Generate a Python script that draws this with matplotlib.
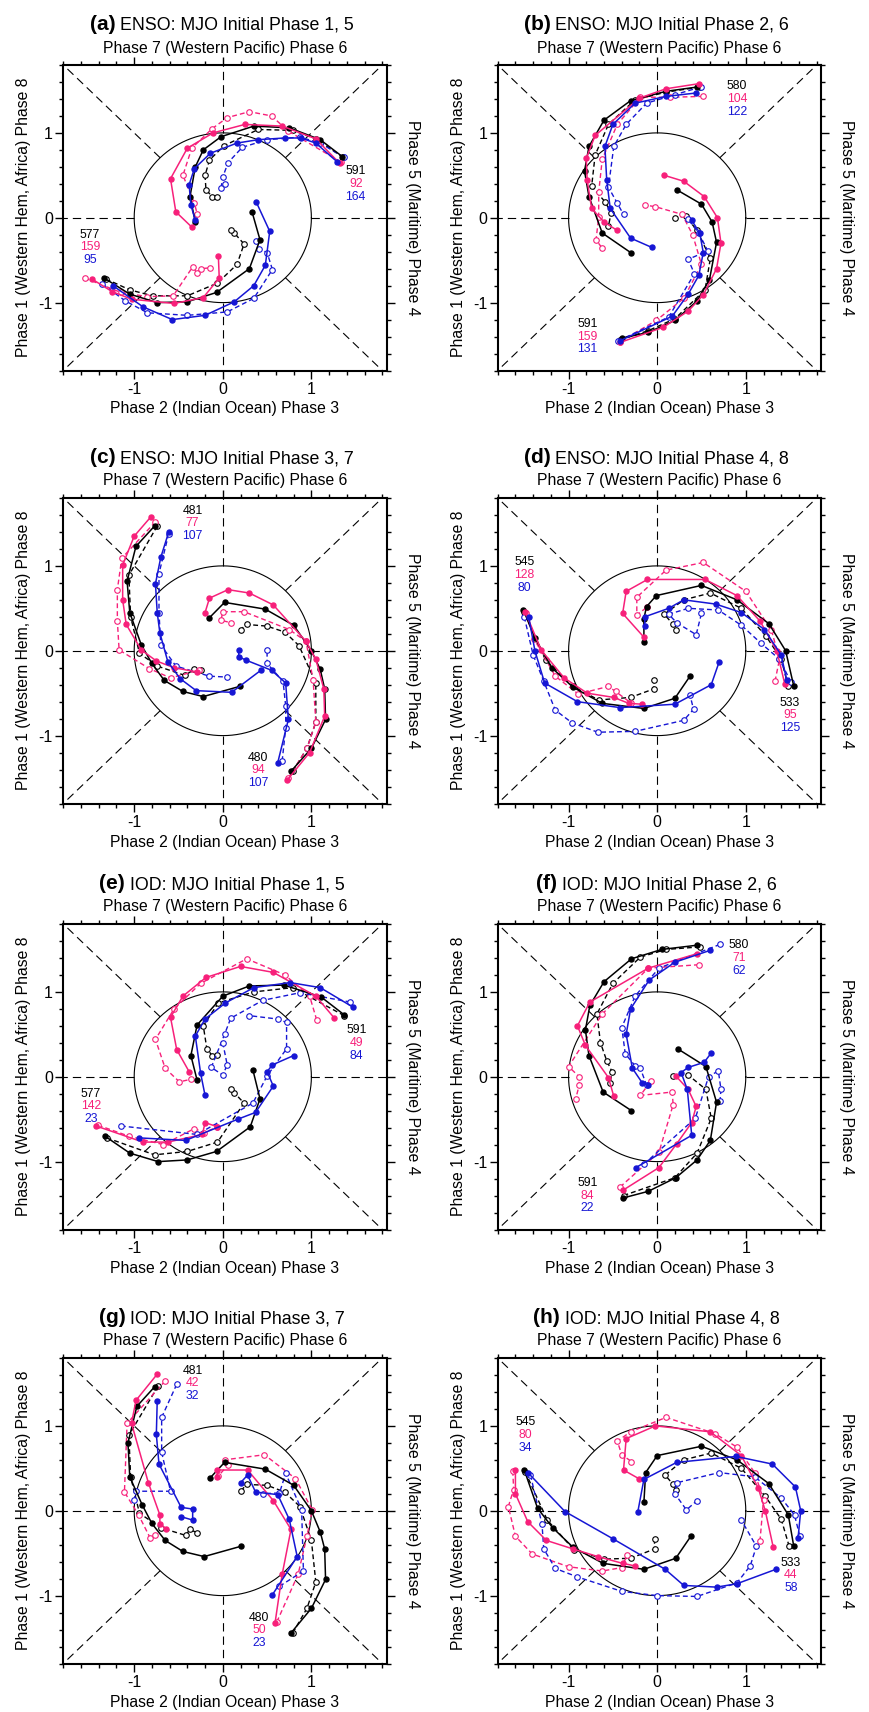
import matplotlib
matplotlib.use("Agg")
import matplotlib.pyplot as plt
import numpy as np
from matplotlib.ticker import MultipleLocator, FixedLocator

plt.rcParams['font.family'] = ['Liberation Sans', 'DejaVu Sans']

# ---------------------------------------------------------------- data
# each track: list of (RMM1, RMM2) points; k=black, p=pink, b=blue; d suffix = dashed
# Panel (a)
a1_k  = [(1.35,0.72),(1.1,0.92),(0.75,1.06),(0.35,1.08),(-0.02,0.955),(-0.22,0.8),(-0.31,0.60),(-0.37,0.25),(-0.31,-0.05)]
a1_kd = [(1.36,0.71),(1.05,0.93),(0.79,1.03),(0.4,1.04),(0.015,0.85),(-0.15,0.68),(-0.2,0.5),(-0.19,0.33),(-0.12,0.25),(-0.06,0.25)]
a1_p  = [(1.32,0.64),(1.05,0.93),(0.67,1.08),(0.25,1.1),(-0.11,1.0),(-0.4,0.82),(-0.59,0.46),(-0.53,0.07),(-0.35,-0.11)]
a1_pd = [(1.33,0.66),(0.74,1.02),(0.55,1.2),(0.3,1.25),(0.05,1.18),(-0.12,1.05),(-0.35,0.82),(-0.45,0.5),(-0.32,0.17),(-0.29,0.05)]
a1_b  = [(1.29,0.66),(1.05,0.88),(0.88,0.94),(0.7,0.94),(0.4,0.92),(0.16,0.88),(-0.14,0.76),(-0.32,0.58),(-0.38,0.39),(-0.36,0.15),(-0.31,-0.03)]
a1_bd = [(1.37,0.71),(1.1,0.88),(0.87,0.95),(0.5,0.92),(0.22,0.83),(0.06,0.65),(0.0,0.48),(-0.02,0.35),(0.03,0.40)]
a2_k  = [(-1.34,-0.71),(-1.05,-0.9),(-0.74,-1.0),(-0.4,-0.99),(-0.07,-0.88),(0.30,-0.6),(0.42,-0.26),(0.33,0.07)]
a2_kd = [(-1.32,-0.72),(-1.05,-0.85),(-0.79,-0.92),(-0.4,-0.92),(-0.06,-0.77),(0.16,-0.55),(0.24,-0.31),(0.13,-0.18),(0.09,-0.15)]
a2_p  = [(-1.48,-0.72),(-1.25,-0.87),(-1.03,-0.96),(-0.55,-1.01),(-0.22,-0.94),(-0.04,-0.71),(-0.05,-0.45)]
a2_pd = [(-1.56,-0.71),(-1.15,-0.88),(-0.85,-0.93),(-0.56,-0.92),(-0.34,-0.58),(-0.29,-0.65),(-0.25,-0.6),(-0.14,-0.59)]
a2_b  = [(-1.24,-0.8),(-0.9,-1.05),(-0.57,-1.2),(-0.2,-1.15),(0.13,-0.99),(0.35,-0.8),(0.48,-0.56),(0.53,-0.16),(0.38,0.18)]
a2_bd = [(-1.36,-0.78),(-1.1,-0.98),(-0.85,-1.12),(-0.4,-1.15),(0.05,-1.11),(0.35,-0.95),(0.56,-0.61),(0.5,-0.41),(0.41,-0.37),(0.37,-0.27)]

# Panel (b)
b1_k  = [(0.45,1.54),(0.1,1.49),(-0.30,1.38),(-0.6,1.15),(-0.77,0.84),(-0.82,0.55),(-0.77,0.25),(-0.62,-0.18),(-0.30,-0.41)]
b1_kd = [(0.48,1.54),(0.1,1.48),(-0.25,1.39),(-0.55,1.1),(-0.70,0.74),(-0.74,0.37),(-0.59,0.19),(-0.52,0.06),(-0.55,-0.1)]
b1_p  = [(0.47,1.58),(0.1,1.52),(-0.2,1.41),(-0.70,0.97),(-0.8,0.7),(-0.79,0.44),(-0.74,0.11),(-0.6,-0.05),(-0.45,-0.15)]
b1_pd = [(0.52,1.43),(0.15,1.42),(-0.19,1.42),(-0.45,1.1),(-0.62,0.69),(-0.66,0.3),(-0.66,0.01),(-0.69,-0.26),(-0.62,-0.36)]
b1_b  = [(0.44,1.47),(0.1,1.43),(-0.25,1.35),(-0.5,1.1),(-0.59,0.84),(-0.57,0.45),(-0.53,0.11),(-0.30,-0.24),(-0.06,-0.35)]
b1_bd = [(0.49,1.54),(0.2,1.45),(-0.12,1.35),(-0.35,1.1),(-0.49,0.84),(-0.55,0.36),(-0.45,0.17),(-0.38,0.04)]
b2_k  = [(-0.40,-1.42),(-0.1,-1.35),(0.20,-1.21),(0.45,-0.98),(0.59,-0.73),(0.67,-0.29),(0.62,-0.05),(0.50,0.16),(0.22,0.33)]
b2_kd = [(-0.42,-1.44),(-0.1,-1.33),(0.2,-1.19),(0.54,-0.85),(0.6,-0.48),(0.45,-0.15),(0.32,0.02),(0.2,0.0)]
b2_p  = [(-0.42,-1.47),(0.07,-1.29),(0.35,-1.1),(0.52,-0.91),(0.67,-0.6),(0.72,-0.3),(0.68,0.0),(0.53,0.25),(0.3,0.43),(0.08,0.5)]
b2_pd = [(-0.42,-1.46),(-0.01,-1.21),(0.3,-0.95),(0.5,-0.55),(0.4,-0.2),(0.28,0.04),(-0.02,0.13),(-0.14,0.15)]
b2_b  = [(-0.42,-1.45),(0.17,-1.16),(0.35,-0.9),(0.47,-0.68),(0.52,-0.41),(0.48,-0.18),(0.39,-0.03)]
b2_bd = [(-0.44,-1.45),(0.13,-1.17),(0.42,-0.66),(0.35,-0.49),(0.57,-0.39),(0.47,-0.18),(0.35,-0.02)]

# Panel (c)
c1_k  = [(-0.77,1.47),(-0.98,1.23),(-1.08,0.82),(-1.05,0.45),(-0.92,0.07),(-0.8,-0.15),(-0.66,-0.35),(-0.45,-0.48),(-0.22,-0.54),(0.19,-0.42)]
c1_kd = [(-0.74,1.47),(-1.06,0.89),(-1.04,0.4),(-0.94,-0.03),(-0.74,-0.18),(-0.43,-0.29),(-0.32,-0.22),(-0.25,-0.23)]
c1_p  = [(-0.81,1.58),(-1.0,1.35),(-1.13,1.01),(-1.13,0.6),(-1.09,0.31),(-0.92,0.01),(-0.75,-0.12),(-0.55,-0.2),(-0.29,-0.25)]
c1_pd = [(-0.76,1.52),(-1.14,1.09),(-1.19,0.72),(-1.19,0.35),(-1.17,0.01),(-0.83,-0.21),(-0.59,-0.32),(-0.27,-0.23)]
c1_b  = [(-0.61,1.40),(-0.7,1.1),(-0.76,0.79),(-0.74,0.45),(-0.71,0.21),(-0.62,-0.13),(-0.48,-0.33),(-0.30,-0.47),(0.10,-0.49),(0.43,-0.23)]
c1_bd = [(-0.61,1.38),(-0.72,0.91),(-0.72,0.45),(-0.70,0.07),(-0.53,-0.18),(-0.15,-0.30),(0.05,-0.31)]
c2_k  = [(0.77,-1.42),(1.0,-1.15),(1.16,-0.81),(1.15,-0.45),(1.1,-0.22),(1.0,0.0),(0.8,0.3),(0.48,0.49),(0.02,0.57),(-0.15,0.39)]
c2_kd = [(0.79,-1.42),(0.95,-1.15),(1.05,-0.84),(1.05,-0.38),(0.86,0.06),(0.7,0.22),(0.5,0.29),(0.27,0.31),(0.2,0.25)]
c2_p  = [(0.73,-1.52),(0.98,-1.2),(1.15,-0.77),(1.14,-0.45),(1.05,-0.1),(0.94,0.11),(0.57,0.54),(0.3,0.68),(0.06,0.72),(-0.15,0.62),(-0.2,0.45)]
c2_pd = [(0.74,-1.5),(0.95,-1.15),(1.05,-0.84),(1.02,-0.35),(0.94,0.11),(0.75,0.25),(0.24,0.46),(0.0,0.46),(-0.02,0.36),(0.09,0.33)]
c2_b  = [(0.62,-1.32),(0.74,-0.81),(0.71,-0.38),(0.55,-0.23),(0.26,-0.11),(0.18,-0.07),(0.18,0.01)]
c2_bd = [(0.67,-1.30),(0.71,-0.91),(0.71,-0.65),(0.68,-0.36),(0.5,-0.15),(0.5,0.01)]

# Panel (d)
d1_k  = [(-1.51,0.48),(-1.38,0.15),(-1.19,-0.2),(-0.95,-0.43),(-0.62,-0.62),(-0.15,-0.68),(0.2,-0.56),(0.37,-0.3)]
d1_kd = [(-1.5,0.46),(-1.26,-0.11),(-0.95,-0.42),(-0.66,-0.58),(-0.3,-0.55),(-0.04,-0.45),(-0.04,-0.34)]
d1_p  = [(-1.49,0.46),(-1.31,0.01),(-1.05,-0.32),(-0.79,-0.5),(-0.49,-0.55),(-0.32,-0.62),(-0.17,-0.63)]
d1_pd = [(-1.48,0.44),(-1.39,0.14),(-1.15,-0.3),(-0.89,-0.51),(-0.55,-0.42),(-0.47,-0.48),(-0.29,-0.62)]
d1_b  = [(-1.45,0.4),(-1.38,0.0),(-1.27,-0.38),(-0.9,-0.6),(-0.42,-0.67),(0.2,-0.63),(0.61,-0.4),(0.7,-0.13)]
d1_bd = [(-1.5,0.4),(-1.4,-0.05),(-1.28,-0.36),(-1.15,-0.7),(-0.96,-0.85),(-0.67,-0.96),(-0.25,-0.95),(0.3,-0.82),(0.41,-0.69),(0.37,-0.52)]
d2_k  = [(1.54,-0.41),(1.45,0.0),(1.26,0.32),(0.9,0.6),(0.5,0.77),(-0.01,0.65),(-0.12,0.52),(-0.15,0.38),(-0.15,0.10)]
d2_kd = [(1.48,-0.42),(1.4,-0.1),(1.23,0.17),(0.95,0.5),(0.6,0.68),(0.3,0.6),(0.08,0.43),(0.18,0.31),(0.21,0.25)]
d2_p  = [(1.44,-0.39),(1.35,0.0),(1.16,0.35),(0.9,0.65),(0.54,0.84),(-0.11,0.84),(-0.35,0.7),(-0.39,0.44),(-0.15,0.16)]
d2_pd = [(1.33,-0.36),(1.38,-0.1),(1.29,0.24),(1.0,0.7),(0.52,1.04),(0.1,0.95),(-0.23,0.63),(-0.23,0.42),(-0.12,0.51)]
d2_b  = [(1.46,-0.34),(1.4,-0.05),(1.21,0.25),(0.95,0.45),(0.66,0.55),(0.30,0.60),(0.13,0.50),(-0.14,0.40),(-0.14,0.29)]
d2_bd = [(1.51,-0.37),(1.38,-0.1),(1.17,0.09),(0.95,0.3),(0.69,0.48),(0.35,0.5),(0.13,0.43),(0.22,0.33),(0.44,0.19),(0.5,0.44)]

# Panel (e)
e1_k  = [(1.37,0.73),(1.11,0.94),(0.69,1.08),(0.3,1.07),(0.0,0.95),(-0.29,0.61),(-0.36,0.25),(-0.29,-0.04)]
e1_kd = [(1.37,0.72),(0.79,1.05),(0.35,1.0),(-0.05,0.87),(-0.22,0.6),(-0.18,0.33),(-0.12,0.25),(-0.06,0.26)]
e1_p  = [(1.26,0.69),(1.05,0.95),(0.57,1.23),(0.2,1.3),(-0.19,1.17),(-0.45,0.95),(-0.59,0.7),(-0.52,0.32),(-0.38,0.06)]
e1_pd = [(1.06,0.67),(0.98,0.95),(0.7,1.2),(0.27,1.39),(-0.25,1.1),(-0.55,0.8),(-0.76,0.44),(-0.65,0.1),(-0.49,-0.06),(-0.36,-0.03)]
e1_b  = [(1.47,0.82),(1.1,1.05),(0.76,1.11),(0.35,1.05),(0.03,0.87),(-0.2,0.68),(-0.31,0.48),(-0.25,0.04),(-0.2,-0.22)]
e1_bd = [(1.44,0.88),(0.87,0.99),(0.45,0.9),(0.09,0.69),(0.02,0.5),(-0.13,0.11),(0.0,0.02),(0.05,0.14),(0.0,0.40)]
e2_k  = [(-1.33,-0.7),(-1.05,-0.9),(-0.73,-1.0),(-0.4,-0.98),(-0.07,-0.88),(0.31,-0.59),(0.42,-0.26),(0.34,0.08)]
e2_kd = [(-1.31,-0.72),(-0.77,-0.92),(-0.4,-0.88),(-0.06,-0.77),(0.24,-0.31),(0.13,-0.19),(0.09,-0.15)]
e2_p  = [(-1.43,-0.58),(-0.9,-0.77),(-0.62,-0.77),(-0.23,-0.68),(-0.2,-0.54),(-0.06,-0.59)]
e2_pd = [(-1.41,-0.57),(-1.06,-0.7),(-0.67,-0.8),(-0.32,-0.61),(-0.21,-0.66),(-0.06,-0.59)]
e2_b  = [(-0.95,-0.72),(-0.42,-0.75),(0.17,-0.5),(0.37,-0.42),(0.57,-0.11),(0.5,0.06),(0.56,0.14),(0.8,0.25)]
e2_bd = [(-1.15,-0.58),(-0.29,-0.68),(0.34,-0.31),(0.5,0.01),(0.72,0.33),(0.72,0.64),(0.62,0.68),(0.3,0.72)]

# Panel (f)
f1_k  = [(0.45,1.55),(0.05,1.5),(-0.29,1.39),(-0.6,1.12),(-0.76,0.84),(-0.81,0.55),(-0.77,0.25),(-0.61,-0.18),(-0.29,-0.4)]
f1_kd = [(0.48,1.53),(0.1,1.5),(-0.19,1.41),(-0.5,1.1),(-0.68,0.74),(-0.64,0.4),(-0.57,0.19),(-0.51,0.06),(-0.53,-0.07)]
f1_p  = [(0.45,1.45),(-0.1,1.28),(-0.76,0.88),(-0.9,0.6),(-0.81,0.37),(-0.55,-0.01),(-0.49,-0.23)]
f1_pd = [(0.47,1.32),(-0.1,1.28),(-0.62,0.74),(-1.0,0.12),(-0.88,0.0),(-0.88,-0.1),(-0.92,-0.26)]
f1_b  = [(0.6,1.49),(0.2,1.35),(-0.09,1.14),(-0.3,0.8),(-0.35,0.5),(-0.28,0.1),(-0.17,-0.07),(-0.1,-0.1)]
f1_bd = [(0.71,1.56),(0.02,1.28),(-0.25,0.95),(-0.40,0.58),(-0.36,0.27),(-0.25,0.13),(-0.19,0.1),(-0.12,-0.1)]
f2_k  = [(-0.39,-1.43),(-0.1,-1.35),(0.21,-1.19),(0.45,-0.98),(0.6,-0.75),(0.67,-0.3),(0.55,0.12),(0.23,0.33)]
f2_kd = [(-0.38,-1.4),(0.2,-1.19),(0.45,-0.9),(0.61,-0.49),(0.55,-0.15),(0.35,0.02),(0.18,0.01)]
f2_p  = [(-0.39,-1.34),(0.02,-1.07),(0.22,-0.79),(0.39,-0.54),(0.44,-0.35),(0.35,-0.15),(0.21,0.01)]
f2_pd = [(-0.42,-1.3),(0.02,-0.89),(0.18,-0.33),(0.17,-0.18),(-0.19,-0.22),(-0.07,-0.05)]
f2_b  = [(-0.24,-1.07),(0.39,-0.69),(0.34,-0.15),(0.27,0.05),(0.35,0.11),(0.53,0.17),(0.61,0.28)]
f2_bd = [(-0.15,-1.03),(0.43,-0.49),(0.58,0.0),(0.69,0.07),(0.72,-0.15),(0.71,-0.28)]

# Panel (g)
g1_k  = [(-0.77,1.46),(-0.97,1.23),(-1.07,0.8),(-1.05,0.4),(-0.91,0.07),(-0.8,-0.15),(-0.65,-0.35),(-0.45,-0.48),(-0.21,-0.54),(0.2,-0.42)]
g1_kd = [(-0.73,1.47),(-1.06,0.89),(-1.04,0.4),(-0.94,-0.03),(-0.7,-0.2),(-0.42,-0.29),(-0.37,-0.22),(-0.29,-0.26)]
g1_p  = [(-0.74,1.61),(-0.98,1.3),(-1.03,1.03),(-0.84,0.33),(-0.71,-0.05),(-0.71,-0.16),(-0.64,-0.21)]
g1_pd = [(-0.65,1.53),(-1.08,1.03),(-1.11,0.22),(-0.95,-0.05),(-0.82,-0.32),(-0.77,-0.28)]
g1_b  = [(-0.74,1.29),(-0.75,0.9),(-0.72,0.55),(-0.47,0.04),(-0.34,0.02),(-0.34,-0.11),(-0.47,-0.07)]
g1_bd = [(-0.52,1.49),(-0.69,1.1),(-0.69,0.69),(-0.59,0.23),(-0.98,0.23),(-1.0,0.13)]
g2_k  = [(0.77,-1.44),(1.0,-1.15),(1.16,-0.81),(1.15,-0.45),(1.1,-0.25),(1.0,0.0),(0.8,0.3),(0.48,0.49),(0.02,0.57),(-0.14,0.39)]
g2_kd = [(0.79,-1.44),(0.95,-1.15),(1.05,-0.84),(1.0,-0.35),(0.87,0.05),(0.7,0.22),(0.5,0.3),(0.27,0.31),(0.2,0.23)]
g2_p  = [(0.59,-1.32),(0.67,-0.75),(0.77,-0.22),(0.57,0.12),(0.28,0.48),(-0.06,0.48),(-0.06,0.4)]
g2_pd = [(0.61,-1.31),(0.85,-0.75),(0.95,-0.3),(1.01,0.01),(0.82,0.38),(0.47,0.66),(0.02,0.6),(0.06,0.54),(-0.05,0.41)]
g2_b  = [(0.56,-0.99),(0.84,-0.54),(0.75,-0.1),(0.62,0.19),(0.37,0.22),(0.28,0.42),(0.2,0.33)]
g2_bd = [(0.64,-0.89),(0.91,-0.71),(0.89,0.01),(0.71,0.44),(0.64,0.21),(0.45,0.2)]

# Panel (h)
h1_k  = [(-1.5,0.48),(-1.35,0.03),(-1.18,-0.2),(-0.95,-0.43),(-0.61,-0.62),(-0.15,-0.69),(0.21,-0.56),(0.38,-0.3)]
h1_kd = [(-1.49,0.46),(-1.24,-0.11),(-0.94,-0.46),(-0.6,-0.57),(-0.3,-0.56),(-0.03,-0.45),(-0.03,-0.33)]
h1_p  = [(-1.6,0.48),(-1.6,0.2),(-1.46,-0.13),(-1.25,-0.35),(-0.95,-0.45),(-0.67,-0.54),(-0.39,-0.62),(-0.25,-0.65)]
h1_pd = [(-1.63,0.47),(-1.62,0.25),(-1.68,0.05),(-1.6,-0.3),(-1.41,-0.51),(-1.0,-0.66),(-0.62,-0.71),(-0.40,-0.67),(-0.34,-0.52)]
h1_b  = [(-1.46,0.45),(-1.04,-0.01),(-0.5,-0.33),(0.09,-0.69),(0.3,-0.88),(0.67,-0.9),(0.9,-0.86),(1.34,-0.69)]
h1_bd = [(-1.43,0.42),(-1.3,-0.16),(-1.28,-0.45),(-1.15,-0.68),(-0.9,-0.78),(-0.4,-0.95),(0.0,-1.0),(0.45,-1.01),(0.9,-0.85),(1.05,-0.65),(1.12,-0.42),(0.95,-0.11)]
h2_k  = [(1.54,-0.41),(1.48,-0.05),(1.26,0.32),(0.9,0.6),(0.5,0.76),(0.0,0.65),(-0.13,0.45),(-0.15,0.1)]
h2_kd = [(1.49,-0.42),(1.4,-0.1),(1.22,0.17),(0.95,0.5),(0.61,0.68),(0.3,0.6),(0.09,0.42),(0.18,0.31),(0.21,0.25)]
h2_p  = [(1.31,-0.43),(1.22,0.0),(1.14,0.27),(0.95,0.65),(0.6,0.93),(-0.02,1.0),(-0.35,0.85),(-0.38,0.48),(-0.21,0.38)]
h2_pd = [(1.16,-0.36),(1.2,0.13),(1.1,0.45),(0.9,0.75),(0.65,0.91),(0.1,1.1),(-0.3,0.93),(-0.45,0.82),(-0.4,0.66),(-0.29,0.58)]
h2_b  = [(1.59,-0.32),(1.62,0.0),(1.56,0.28),(1.3,0.55),(0.89,0.64),(0.22,0.57),(-0.15,0.37),(-0.22,-0.02)]
h2_bd = [(1.61,-0.3),(1.55,-0.05),(1.4,0.15),(1.1,0.4),(0.7,0.45),(0.22,0.33),(0.2,0.2),(0.33,0.01),(0.45,0.12)]

# sample counts (black, pink, blue) for each group
a_counts = [["591", "92", "164"], ["577", "159", "95"]]
b_counts = [["580", "104", "122"], ["591", "159", "131"]]
c_counts = [["481", "77", "107"], ["480", "94", "107"]]
d_counts = [["545", "128", "80"], ["533", "95", "125"]]
e_counts = [["591", "49", "84"], ["577", "142", "23"]]
f_counts = [["580", "71", "62"], ["591", "84", "22"]]
g_counts = [["481", "42", "32"], ["480", "50", "23"]]
h_counts = [["545", "80", "34"], ["533", "44", "58"]]

letters = ["a", "b", "c", "d", "e", "f", "g", "h"]
titles = ["ENSO: MJO Initial Phase 1, 5", "ENSO: MJO Initial Phase 2, 6",
          "ENSO: MJO Initial Phase 3, 7", "ENSO: MJO Initial Phase 4, 8",
          "IOD: MJO Initial Phase 1, 5", "IOD: MJO Initial Phase 2, 6",
          "IOD: MJO Initial Phase 3, 7", "IOD: MJO Initial Phase 4, 8"]

xlabel_bottom = "Phase 2 (Indian Ocean) Phase 3"
xlabel_top = "Phase 7 (Western Pacific) Phase 6"
ylabel_left = "Phase 1 (Western Hem, Africa) Phase 8"
ylabel_right = "Phase 5 (Maritime) Phase 4"

panels = [
    ([a1_k, a1_kd, a1_p, a1_pd, a1_b, a1_bd], [a2_k, a2_kd, a2_p, a2_pd, a2_b, a2_bd], a_counts),
    ([b1_k, b1_kd, b1_p, b1_pd, b1_b, b1_bd], [b2_k, b2_kd, b2_p, b2_pd, b2_b, b2_bd], b_counts),
    ([c1_k, c1_kd, c1_p, c1_pd, c1_b, c1_bd], [c2_k, c2_kd, c2_p, c2_pd, c2_b, c2_bd], c_counts),
    ([d1_k, d1_kd, d1_p, d1_pd, d1_b, d1_bd], [d2_k, d2_kd, d2_p, d2_pd, d2_b, d2_bd], d_counts),
    ([e1_k, e1_kd, e1_p, e1_pd, e1_b, e1_bd], [e2_k, e2_kd, e2_p, e2_pd, e2_b, e2_bd], e_counts),
    ([f1_k, f1_kd, f1_p, f1_pd, f1_b, f1_bd], [f2_k, f2_kd, f2_p, f2_pd, f2_b, f2_bd], f_counts),
    ([g1_k, g1_kd, g1_p, g1_pd, g1_b, g1_bd], [g2_k, g2_kd, g2_p, g2_pd, g2_b, g2_bd], g_counts),
    ([h1_k, h1_kd, h1_p, h1_pd, h1_b, h1_bd], [h2_k, h2_kd, h2_p, h2_pd, h2_b, h2_bd], h_counts),
]

# ---------------------------------------------------------------- layout / style
BLACK, PINK, BLUE = "#000000", "#F7207A", "#1616D4"
track_colors = [BLACK, BLACK, PINK, PINK, BLUE, BLUE]
track_dashed = [False, True, False, True, False, True]

count_pos = [((1.50, 0.55), (-1.50, -0.20)),
             ((0.90, 1.55), (-0.79, -1.25)),
             ((-0.34, 1.65), (0.40, -1.26)),
             ((-1.50, 1.04), (1.50, -0.61)),
             ((1.51, 0.55), (-1.49, -0.20)),
             ((0.92, 1.55), (-0.79, -1.25)),
             ((-0.34, 1.65), (0.41, -1.26)),
             ((-1.49, 1.04), (1.51, -0.61))]

FW, FH = 869, 1712
fig = plt.figure(figsize=(FW / 100, FH / 100), dpi=100)
col_left = [63.3, 497.7]
row_top = [65.0, 498.0, 924.0, 1358.0]
AXW, AXH = 323.4, 305.5
PT = 0.72  # points per pixel

XLIM = (-1.8, 1.85)
YLIM = (-1.8, 1.8)

axes = []
for i in range(8):
    r, c = divmod(i, 2)
    left = col_left[c] / FW
    bottom = 1 - (row_top[r] + AXH) / FH
    ax = fig.add_axes([left, bottom, AXW / FW, AXH / FH])
    axes.append(ax)

theta = np.linspace(0, 2 * np.pi, 721)
for i, ax in enumerate(axes):
    g1, g2, counts = panels[i]
    ax.set_xlim(*XLIM)
    ax.set_ylim(*YLIM)
    ax.plot(np.cos(theta), np.sin(theta), color="black", lw=0.8, zorder=1)
    for ang in np.arange(0, 360, 45):
        a = np.deg2rad(ang)
        ax.plot([np.cos(a), 3 * np.cos(a)], [np.sin(a), 3 * np.sin(a)],
                color="black", lw=0.8, dashes=(7.5, 4.5), zorder=1)
    for grp in (g1, g2):
        for tr, col, dsh in zip(grp, track_colors, track_dashed):
            xs = [p[0] for p in tr]
            ys = [p[1] for p in tr]
            if dsh:
                ax.plot(xs, ys, color=col, lw=1.0, dashes=(3.5, 2.2), marker="o",
                        ms=4.0, mfc="white", mec=col, mew=0.8, zorder=3)
            else:
                ax.plot(xs, ys, color=col, lw=1.1, marker="o", ms=3.6,
                        mfc=col, mec=col, zorder=4)
    for (cx, cy), cl in zip(count_pos[i], counts):
        for j, (txt, col) in enumerate(zip(cl, [BLACK, PINK, BLUE])):
            ax.text(cx, cy - 0.15 * j, txt, color=col, fontsize=8.8,
                    ha="center", va="center", zorder=5)
    ax.xaxis.set_major_locator(FixedLocator([-1, 0, 1]))
    ax.yaxis.set_major_locator(FixedLocator([-1, 0, 1]))
    ax.xaxis.set_minor_locator(MultipleLocator(0.2))
    ax.yaxis.set_minor_locator(MultipleLocator(0.2))
    ax.tick_params(which="both", direction="out", top=True, right=True,
                   labeltop=False, labelright=False, width=1.0, labelsize=11.5)
    ax.tick_params(which="major", length=5.5)
    ax.tick_params(which="minor", length=3)
    ax.tick_params(axis="x", pad=3)
    ax.tick_params(axis="y", pad=2)
    ax.set_xticklabels(["-1", "0", "1"])
    ax.set_yticklabels(["-1", "0", "1"])
    for s in ax.spines.values():
        s.set_linewidth(1.5)
    ax.annotate(xlabel_bottom, xy=(0.5, 0), xycoords="axes fraction",
                xytext=(0, -43 * PT), textcoords="offset points",
                ha="center", va="baseline", fontsize=11.3)
    ax.annotate(xlabel_top, xy=(0.5, 1), xycoords="axes fraction",
                xytext=(0, 12.5 * PT), textcoords="offset points",
                ha="center", va="baseline", fontsize=11.3)
    ax.annotate(ylabel_left, xy=(0, 0.5), xycoords="axes fraction",
                xytext=(-39.5 * PT, 0), textcoords="offset points",
                ha="center", va="center", rotation=90, fontsize=11.3)
    ax.annotate(ylabel_right, xy=(1, 0.5), xycoords="axes fraction",
                xytext=(25.5 * PT, 0), textcoords="offset points",
                ha="center", va="center", rotation=-90, fontsize=11.3)

fig.canvas.draw()
renderer = fig.canvas.get_renderer()
for i, ax in enumerate(axes):
    t1 = ax.annotate(f"({letters[i]})", xy=(0.5, 1), xycoords="axes fraction",
                     xytext=(0, 35 * PT), textcoords="offset points",
                     ha="left", va="baseline", fontsize=15, fontweight="bold")
    t2 = ax.annotate(titles[i], xy=(0.5, 1), xycoords="axes fraction",
                     xytext=(0, 35 * PT), textcoords="offset points",
                     ha="left", va="baseline", fontsize=12.8)
    w1 = t1.get_window_extent(renderer).width
    w2 = t2.get_window_extent(renderer).width
    gap = 5.0
    total = w1 + gap + w2
    start = -total / 2 - 3
    t1.xyann = (start * PT, 35 * PT)
    t2.xyann = ((start + w1 + gap) * PT, 35 * PT)

fig.savefig("out.png", dpi=100)
